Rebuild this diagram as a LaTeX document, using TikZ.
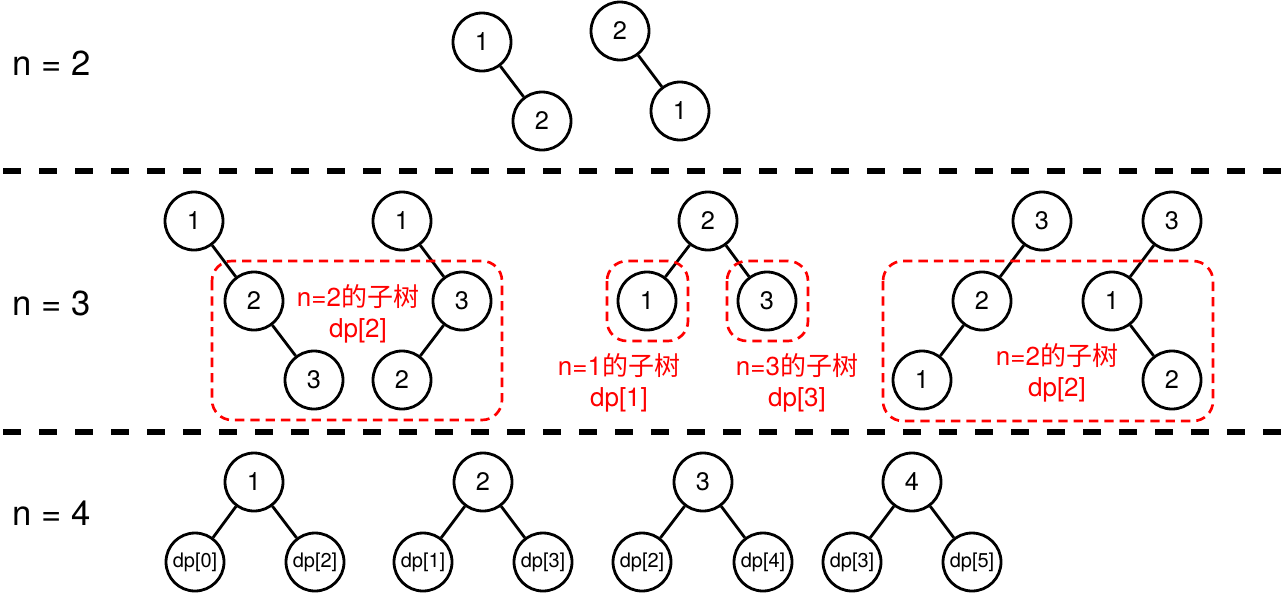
\documentclass[tikz,border=0pt]{standalone}
\usepackage{fontspec}
\setmainfont{TeX Gyre Heros}
\newfontfamily\cjk{Noto Sans CJK SC}
\usepackage{tikz}
\usetikzlibrary{positioning}

\begin{document}
\begin{tikzpicture}[
        x=0.75pt, y=-0.75pt,
        nd/.style = {draw, circle, line width=2.1pt, minimum size=43.5pt, inner sep=0pt, font=\fontsize{19}{20}\selectfont},
        dpnd/.style = {nd, font=\fontsize{15}{16}\selectfont},
        sub/.style = {draw=red, line width=2pt, dash pattern=on 7pt off 4.5pt, rounded corners=15pt},
        sep/.style = {line width=3.8pt, dash pattern=on 13.5pt off 13.5pt},
        lbl/.style = {anchor=west, inner sep=0pt, font=\fontsize{26}{28}\selectfont},
        note/.style = {text=red, align=center, inner sep=0pt, font=\fontsize{19.5}{23.5}\selectfont},
        edge/.style = {line width=2.1pt},
        ]
        \useasboundingbox (0,0) rectangle (1287,593);

        % row labels
        \node[lbl](l2) at (12,63) {n = 2};
        \node[lbl](l3) at (12,303) {n = 3};
        \node[lbl](l4) at (12,513) {n = 4};

        % separators
        \draw[sep] (3,171) -- (1287,171);
        \draw[sep] (3,432) -- (1287,432);

        % n = 2
        \node[nd](a1) at (482,42) {1};
        \node[nd](a2) at (542,121) {2};
        \node[nd](b2) at (620,31) {2};
        \node[nd](b1) at (680,111) {1};
        \draw[edge] (a1) -- (a2);
        \draw[edge] (b2) -- (b1);

        % n = 3
        \node[nd](c1) at (194,221) {1};
        \node[nd](c2) at (254,301) {2};
        \node[nd](c3) at (314,380) {3};
        \node[nd](d1) at (402,221) {1};
        \node[nd](d3) at (462,301) {3};
        \node[nd](d2) at (402,380) {2};
        \draw[edge] (c1) -- (c2);
        \draw[edge] (c2) -- (c3);
        \draw[edge] (d1) -- (d3);
        \draw[edge] (d3) -- (d2);
        \draw[sub] (212,261) rectangle (502,420);
        \node[note](t1) at (358,314) {n=2{\cjk 的子树}\\dp[2]};

        \node[nd](e2) at (708,221) {2};
        \node[nd](e1) at (647,301) {1};
        \node[nd](e3) at (767,301) {3};
        \draw[edge] (e2) -- (e1);
        \draw[edge] (e2) -- (e3);
        \draw[sub] (607,261) rectangle (688,341);
        \draw[sub] (727,261) rectangle (808,341);
        \node[note](t2) at (619,383) {n=1{\cjk 的子树}\\dp[1]};
        \node[note](t3) at (797,383) {n=3{\cjk 的子树}\\dp[3]};

        \node[nd](f3) at (1042,221) {3};
        \node[nd](f2) at (982,301) {2};
        \node[nd](f1) at (922,380) {1};
        \node[nd](g3) at (1172,221) {3};
        \node[nd](g1) at (1112,301) {1};
        \node[nd](g2) at (1172,380) {2};
        \draw[edge] (f3) -- (f2);
        \draw[edge] (f2) -- (f1);
        \draw[edge] (g3) -- (g1);
        \draw[edge] (g1) -- (g2);
        \draw[sub] (883,261) rectangle (1213,421);
        \node[note](t4) at (1057,373) {n=2{\cjk 的子树}\\dp[2]};

        % n = 4
        \node[nd](h1) at (254,482) {1};
        \node[dpnd](h1l) at (195,562) {dp[0]};
        \node[dpnd](h1r) at (315,562) {dp[2]};
        \node[nd](h2) at (483,482) {2};
        \node[dpnd](h2l) at (423,562) {dp[1]};
        \node[dpnd](h2r) at (543,562) {dp[3]};
        \node[nd](h3) at (703,482) {3};
        \node[dpnd](h3l) at (642,562) {dp[2]};
        \node[dpnd](h3r) at (763,562) {dp[4]};
        \node[nd](h4) at (912,482) {4};
        \node[dpnd](h4l) at (852,562) {dp[3]};
        \node[dpnd](h4r) at (972,562) {dp[5]};
        \draw[edge] (h1) -- (h1l);
        \draw[edge] (h1) -- (h1r);
        \draw[edge] (h2) -- (h2l);
        \draw[edge] (h2) -- (h2r);
        \draw[edge] (h3) -- (h3l);
        \draw[edge] (h3) -- (h3r);
        \draw[edge] (h4) -- (h4l);
        \draw[edge] (h4) -- (h4r);

\end{tikzpicture}
\end{document}
